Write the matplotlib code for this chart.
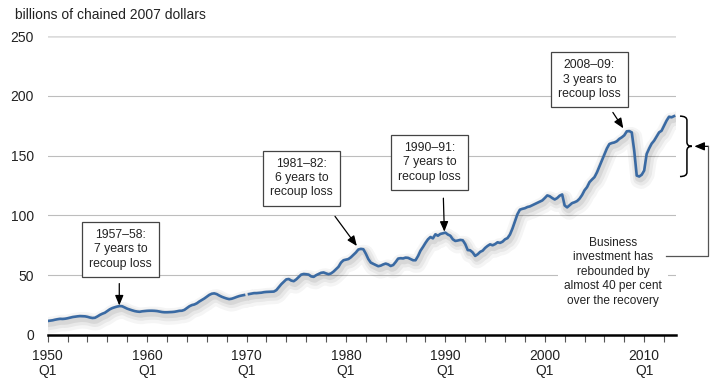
import numpy as np
import matplotlib
matplotlib.use("Agg")
import matplotlib.pyplot as plt
import matplotlib.patheffects as pe
from matplotlib.path import Path
from matplotlib.patches import PathPatch

plt.rcParams['font.family'] = ['Liberation Sans', 'DejaVu Sans']

# quarterly business investment, billions of chained 2007 dollars, 1950Q1 - 2013Q1
nan = np.nan
invest = [
    11.7, 12.0, 12.3, 12.8,   # 1950
    13.2, 13.5, 13.4, 13.6,
    14.0, 14.5, 15.0, 15.3,
    15.6, 15.8, 15.7, 15.6,
    15.2, 14.6, 14.2, 14.4,
    15.5, 16.8, 17.8, 18.6,   # 1955
    20.0, 21.5, 22.5, 23.2,
    23.8, 24.2, 24.0, 23.0,
    22.0, 21.3, 20.6, 20.0,
    19.6, 19.4, 19.8, 20.0,
    20.2, 20.3, 20.3, 20.2,   # 1960
    20.0, 19.6, 19.2, 19.0,
    19.0, 19.1, 19.2, 19.4,
    19.8, 20.2, 20.3, 21.0,
    22.5, 24.0, 25.0, 25.5,
    26.5, 28.0, 29.2, 30.5,   # 1965
    32.0, 33.5, 34.5, 34.8,
    34.2, 33.0, 32.0, 31.2,
    30.5, 30.0, 30.3, 31.0,
    31.8, 32.5, 33.0, 33.4,
    nan, 34.2, 34.6, 35.0,    # 1970
    35.0, 35.2, 35.4, 35.8,
    36.0, 36.1, 36.2, 36.3,
    37.5, 40.0, 42.5, 44.5,
    46.5, 46.8, 45.5, 45.0,
    46.5, 48.5, 50.5, 51.0,   # 1975
    50.8, 50.5, 49.0, 48.6,
    50.0, 51.0, 52.0, 52.3,
    51.5, 50.8, 51.5, 53.0,
    55.0, 57.0, 60.5, 62.5,
    63.0, 63.5, 65.0, 67.0,   # 1980
    69.0, 71.5, 72.0, 71.7,
    68.0, 63.5, 60.5, 59.5,
    58.5, 57.5, 58.0, 59.0,
    59.7, 59.0, 57.7, 58.5,
    61.0, 63.9, 64.2, 64.0,   # 1985
    64.7, 64.5, 63.5, 62.5,
    62.5, 66.0, 70.5, 73.6,
    77.0, 80.0, 81.9, 80.8,
    84.2, 83.0, 84.5, 85.0,
    85.6, 84.0, 83.0, 80.0,   # 1990
    78.6, 79.0, 79.5, 79.2,
    76.0, 71.0, 70.8, 69.0,
    66.1, 67.5, 69.5, 70.5,
    72.8, 74.5, 75.8, 75.0,
    76.0, 77.5, 77.0, 78.0,   # 1995
    80.0, 81.0, 84.0, 89.0,
    95.0, 101.0, 104.8, 105.5,
    106.0, 107.0, 107.5, 108.5,
    109.5, 110.5, 111.5, 112.5,
    114.5, 116.7, 116.0, 114.5,  # 2000
    113.3, 114.5, 116.5, 117.5,
    108.3, 106.7, 108.5, 110.3,
    111.0, 112.0, 114.0, 117.0,
    121.0, 123.6, 127.8, 130.0,
    132.0, 136.0, 141.0, 146.0,  # 2005
    151.0, 156.0, 159.7, 160.5,
    161.0, 162.0, 164.0, 165.3,
    167.0, 170.3, 170.5, 169.4,
    154.0, 133.3, 132.5, 134.0,
    137.5, 151.4, 156.0, 160.0,  # 2010
    162.5, 166.0, 169.4, 170.8,
    175.0, 179.2, 182.5, 182.0,
    183.0,
]
start_year = 1950
y_ticks = [0, 50, 100, 150, 200, 250]
x_major = [1950, 1960, 1970, 1980, 1990, 2000, 2010]
x_labels = [f"{y}\nQ1" for y in x_major]

recessions = [
    ("1957\u201358:\n7 years to\nrecoup loss", 1956, 1959),
    ("1981\u201382:\n6 years to\nrecoup loss", 1980, 1983),
    ("1990\u201391:\n7 years to\nrecoup loss", 1989, 1991),
    ("2008\u201309:\n3 years to\nrecoup loss", 2008, 2009.5),
]
note = "Business\ninvestment has\nrebounded by\nalmost 40 per cent\nover the recovery"

vals = np.array(invest, dtype=float)
t = start_year + np.arange(len(vals)) / 4.0

fig = plt.figure(figsize=(7.2, 3.86), dpi=100)
ax = fig.add_axes([47.7 / 720, 1 - 335 / 386, (676 - 47.7) / 720, (335 - 36) / 386])

blue = '#3a6aa3'
shadow = [
    pe.SimpleLineShadow(offset=(1.5, -3), shadow_color='k', alpha=0.04, linewidth=12),
    pe.SimpleLineShadow(offset=(1.5, -2.5), shadow_color='k', alpha=0.05, linewidth=8),
    pe.SimpleLineShadow(offset=(1, -2), shadow_color='k', alpha=0.07, linewidth=4.5),
    pe.Normal(),
]
ax.plot(t, vals, color=blue, lw=1.9, zorder=3, path_effects=shadow)

ax.set_xlim(start_year, 2013.2)
ax.set_ylim(0, 250)
ax.set_yticks(y_ticks)
ax.set_xticks(x_major)
ax.set_xticklabels(x_labels, linespacing=1.1)
ax.set_xticks(np.arange(1950, 2014, 2), minor=True)
ax.tick_params(axis='x', which='both', direction='out', length=5, width=0.8,
               color='#555555', pad=5, labelsize=10, labelcolor='#222222')
ax.tick_params(axis='y', length=0, pad=10, labelsize=10, labelcolor='#222222')
for s in ['top', 'right', 'left']:
    ax.spines[s].set_visible(False)
ax.spines['bottom'].set_linewidth(1.8)
ax.spines['bottom'].set_color('black')
ax.spines['bottom'].set_zorder(4)

ax.grid(axis='y', color='#bdbdbd', lw=0.8, zorder=0)
ax.set_axisbelow(True)
glines = ax.yaxis.get_gridlines()
glines[0].set_visible(False)
glines[-1].set_color('#dcdcdc')
glines[-1].set_linewidth(1.8)

fig.text(15 / 720, 1 - 15 / 386, "billions of chained 2007 dollars",
         ha='left', va='center', fontsize=10, color='#222222')


def peak(lo, hi):
    m = (t >= lo) & (t <= hi)
    i = np.nanargmax(np.where(m, vals, -np.inf))
    return t[i], vals[i]


# box centres, arrow starts and tip offsets from each peak
box_pos = [(1957.35, 71.5), (1975.55, 131.2), (1988.4, 144.4), (2004.5, 213.6)]
arrow_from = [(1957.2, 43.0), (1978.9, 99.2), (1989.8, 114.4), (2006.85, 186.1)]
tip_off = [(-0.05, 0.5), (-0.4, 2.4), (-0.1, 0.8), (-0.6, 2.3)]

for (label, lo, hi), bp, af, off in zip(recessions, box_pos, arrow_from, tip_off):
    px, py = peak(lo, hi)
    ax.text(bp[0], bp[1], label, ha='center', va='center', fontsize=8.8,
            color='#222222', linespacing=1.25, zorder=6,
            bbox=dict(boxstyle='square,pad=0.6', fc='white', ec='#444444', lw=0.9))
    ax.annotate('', xy=(px + off[0], py + off[1]), xytext=af, zorder=6,
                arrowprops=dict(arrowstyle='-|>,head_length=0.6,head_width=0.25',
                                color='black', lw=0.9, shrinkA=0, shrinkB=0))

ax.text(2006.9, 52.8, note, ha='center', va='center', fontsize=8.6,
        color='#222222', linespacing=1.28, zorder=5,
        bbox=dict(boxstyle='square,pad=0.5', fc='white', ec='none'))

# brace from recovery trough to latest value
top = vals[-1]
bot = np.nanmin(vals[(t >= 2009) & (t <= 2010.5)])
mid = (top + bot) / 2
x0, x1, x2 = 2013.6, 2014.3, 2014.8
r = 3.5
verts = [(x0, top), (x1, top), (x1, top - r),
         (x1, mid + r), (x1, mid), (x2, mid),
         (x1, mid), (x1, mid - r),
         (x1, bot + r), (x1, bot), (x0, bot)]
codes = [Path.MOVETO, Path.CURVE3, Path.CURVE3,
         Path.LINETO, Path.CURVE3, Path.CURVE3,
         Path.CURVE3, Path.CURVE3,
         Path.LINETO, Path.CURVE3, Path.CURVE3]
ax.add_patch(PathPatch(Path(verts, codes), fc='none', ec='black', lw=1.1,
                       clip_on=False, zorder=6))

# connector from note to brace
ax.plot([2012.2, 2016.45, 2016.45], [65.8, 65.8, mid], color='#555555',
        lw=0.9, clip_on=False, zorder=6)
ax.annotate('', xy=(x2 + 0.25, mid), xytext=(2016.45, mid), annotation_clip=False,
            arrowprops=dict(arrowstyle='-|>,head_length=0.6,head_width=0.25',
                            color='black', lw=0.9, shrinkA=0, shrinkB=0))

fig.savefig('out.png', dpi=100)
